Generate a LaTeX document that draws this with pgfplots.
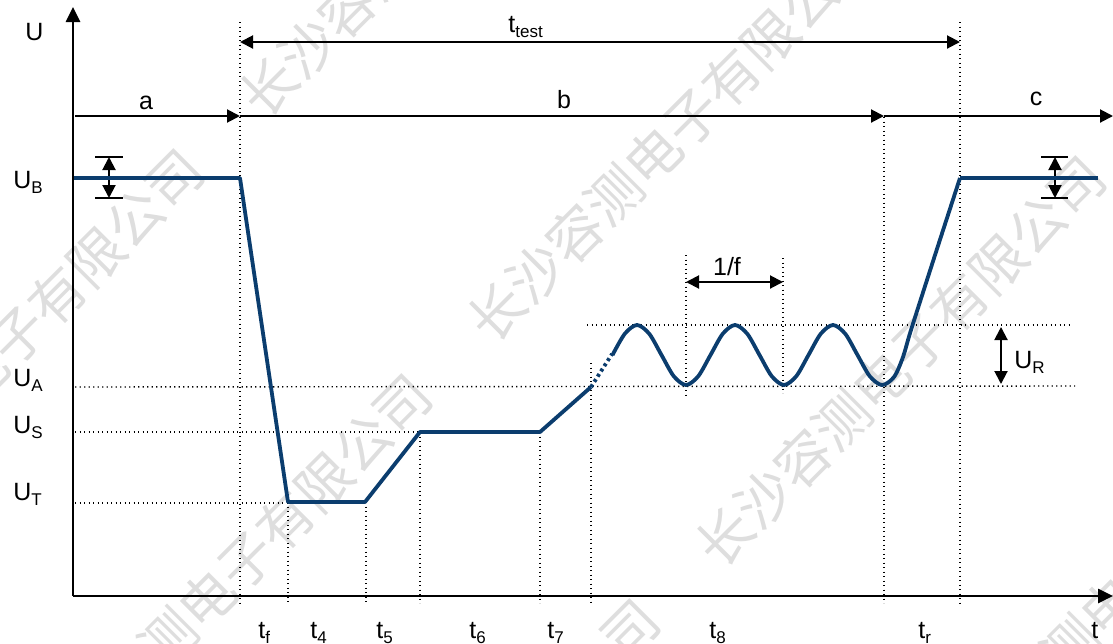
\documentclass[border=0pt]{standalone}
\usepackage{fontspec}
\setmainfont{Liberation Sans}
\newfontfamily\cjk{Noto Sans CJK SC}
\usepackage{pgfplots}
\pgfplotsset{compat=1.18}
\usetikzlibrary{arrows.meta}
\definecolor{wave}{HTML}{0B3D6E}
\definecolor{wm}{gray}{0.87}
\newcommand{\sub}[1]{\raisebox{-2.5pt}{\fontsize{8.5}{9}\selectfont #1}}

\begin{document}
\begin{tikzpicture}[
  lbl/.style={font=\fontsize{12.5}{14}\selectfont, inner sep=0pt},
  wmark/.style={wm, inner sep=0pt, rotate=45, font=\cjk\fontsize{27.6}{28}\selectfont},
  dots/.style={line width=0.7pt, dash pattern=on 0.7pt off 1.55pt},
  arr/.style={line width=1pt, -{Triangle[length=6.5pt,width=6.5pt]}},
  darr/.style={line width=1pt, {Triangle[length=6.5pt,width=6.5pt]}-{Triangle[length=6.5pt,width=6.5pt]}},
  ax/.style={line width=1.3pt, -{Triangle[length=7.5pt,width=7pt]}},
]
\begin{axis}[name=ax, scale only axis, width=556.5pt, height=321.5pt,
  xmin=0, xmax=1113, ymin=0, ymax=643, y dir=reverse, hide axis]

% watermark tiles
\node[wmark] at (672.5,136.5) {长沙容测电子有限公司};
\node[wmark] at (444.5,-88.5) {长沙容测电子有限公司};
\node[wmark] at (900.5,361.5) {长沙容测电子有限公司};
\node[wmark] at (1128.5,586.5) {长沙容测电子有限公司};
\node[wmark] at (226.5,579.5) {长沙容测电子有限公司};
\node[wmark] at (454.5,804.5) {长沙容测电子有限公司};
\node[wmark] at (-1.5,354.5) {长沙容测电子有限公司};

% reference lines
\draw[dots] (240,22) -- (240,603);
\draw[dots] (288,502) -- (288,603);
\draw[dots] (366,502) -- (366,603);
\draw[dots] (420,432) -- (420,603);
\draw[dots] (540,432) -- (540,603);
\draw[dots] (591,363) -- (591,603);
\draw[dots] (686,255) -- (686,395);
\draw[dots] (783,258) -- (783,393);
\draw[dots] (884,117) -- (884,603);
\draw[dots] (960,22) -- (960,603);
\draw[dots] (75,387) -- (1075,386);
\draw[dots] (75,432) -- (420,432);
\draw[dots] (75,503) -- (288,503);
\draw[dots] (587,325) -- (1072,325);

% axes
\draw[ax] (73,596) -- (73,7);
\draw[ax] (73,596) -- (1113,596);

% interval arrows
\draw[darr] (240,42) -- (960,42);
\draw[arr] (75,116) -- (240,116);
\draw[arr] (240,116) -- (884,116);
\draw[arr] (884,116) -- (1113,116);
\draw[darr] (686,282) -- (783,282);
\draw[darr] (1001,327) -- (1001,384);
\draw[line width=1pt] (95,157) -- (123,157) (95,198) -- (123,198);
\draw[darr] (109,157) -- (109,198);
\draw[line width=1pt] (1041,157) -- (1068,157) (1041,198) -- (1068,198);
\draw[darr] (1055,157) -- (1055,198);

% waveform
\addplot[wave, line width=1.9pt, line join=round] coordinates {
  (74,178) (240,178) (288,502) (365,502) (420,432) (540,432) (591,387)};
\addplot[wave, line width=1.9pt, dash pattern=on 1.5pt off 1.6pt] coordinates {
  (591,387) (612,354)};
\addplot[wave, line width=1.9pt, smooth] coordinates {
  (612.5,355) (624.75,333.8) (637,325) (649.25,333.8) (661.5,355) (673.75,376.2)
  (686,385) (698.25,376.2) (710.5,355) (722.75,333.8) (735,325) (747.25,333.8)
  (759.5,355) (771.75,376.2) (784,385) (796.25,376.2) (808.5,355) (820.75,333.8)
  (833,325) (845.25,333.8) (857.5,355) (869.75,376.2) (882,385) (894,377)
  (903,357) (911,330) (936,252) (960,178)};
\addplot[wave, line width=1.9pt] coordinates {(960,178) (1098,178)};

% labels
\node[lbl, anchor=base west] at (25,40) {U};
\node[lbl, anchor=base west] at (13,188) {U\sub{B}};
\node[lbl, anchor=base west] at (13,386) {U\sub{A}};
\node[lbl, anchor=base west] at (13,433) {U\sub{S}};
\node[lbl, anchor=base west] at (13,500) {U\sub{T}};
\node[lbl, anchor=base west] at (1014,368) {U\sub{R}};
\node[lbl, anchor=base west] at (508,32) {t\sub{test}};
\node[lbl, anchor=base] at (146,109) {a};
\node[lbl, anchor=base] at (564,108) {b};
\node[lbl, anchor=base] at (1036,105) {c};
\node[lbl, anchor=base] at (727,275) {1/f};
\node[lbl, anchor=base west] at (258,638) {t\sub{f}};
\node[lbl, anchor=base west] at (310,638) {t\sub{4}};
\node[lbl, anchor=base west] at (376,638) {t\sub{5}};
\node[lbl, anchor=base west] at (469,638) {t\sub{6}};
\node[lbl, anchor=base west] at (547,638) {t\sub{7}};
\node[lbl, anchor=base west] at (709,638) {t\sub{8}};
\node[lbl, anchor=base west] at (918,638) {t\sub{r}};
\node[lbl, anchor=base west] at (1091,638) {t};
\end{axis}
\pgfresetboundingbox
\useasboundingbox (ax.south west) rectangle (ax.north east);
\end{tikzpicture}
\end{document}
